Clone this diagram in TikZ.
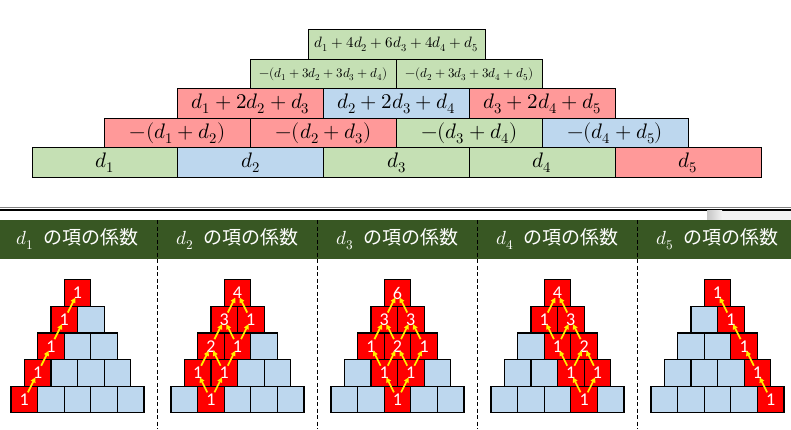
\documentclass[tikz,border=0pt]{standalone}
\usepackage{fontspec}
\usepackage{unicode-math}
\setmathfont{Latin Modern Math}
\newfontfamily\jp{Noto Sans CJK JP}
\newfontfamily\numfont{Carlito}
\usetikzlibrary{positioning,arrows.meta}
\definecolor{tgreen}{HTML}{C5E0B4}
\definecolor{tblue}{HTML}{BDD7EE}
\definecolor{tpink}{HTML}{FF9999}
\definecolor{band}{HTML}{385723}
\tikzset{
  >={Triangle[length=5pt,width=5pt]},
  term/.style={draw, line width=0.9pt, minimum width=145.8pt, minimum height=29.5pt,
    inner sep=0pt, outer sep=0pt, font=\fontsize{21}{24}\selectfont},
  small term/.style={term, font=\fontsize{13}{15}\selectfont},
  gterm/.style={term, fill=tgreen},
  bterm/.style={term, fill=tblue},
  pterm/.style={term, fill=tpink},
  cell/.style={draw, line width=1.2pt, minimum size=26.6pt, inner sep=0pt, outer sep=0pt,
    fill=tblue},
  hit/.style={cell, fill=red, text=white, font=\numfont\fontsize{18}{20}\selectfont},
  carry/.style={->, yellow, line width=1.7pt, shorten <=8pt, shorten >=5pt},
  head/.style={text=white, font=\fontsize{19}{22}\selectfont},
  sep/.style={line width=1.3pt, dash pattern=on 4pt off 2.5pt},
}

\begin{document}
\begin{tikzpicture}[x=1pt, y=-1pt]
  \useasboundingbox (0,0) rectangle (791,429);

  % difference pyramid
  \node[gterm] (a1) at (104.9,162.5) {$d_1$};
  \node[bterm, right=0pt of a1] (a2) {$d_2$};
  \node[gterm, right=0pt of a2] (a3) {$d_3$};
  \node[gterm, right=0pt of a3] (a4) {$d_4$};
  \node[pterm, right=0pt of a4] (a5) {$d_5$};

  \node[pterm, above=0pt of a1.north east] (b1) {$-(d_1+d_2)$};
  \node[pterm, right=0pt of b1] (b2) {$-(d_2+d_3)$};
  \node[gterm, right=0pt of b2] (b3) {$-(d_3+d_4)$};
  \node[bterm, right=0pt of b3] (b4) {$-(d_4+d_5)$};

  \node[pterm, above=0pt of b1.north east] (c1) {$d_1+2d_2+d_3$};
  \node[bterm, right=0pt of c1] (c2) {$d_2+2d_3+d_4$};
  \node[pterm, right=0pt of c2] (c3) {$d_3+2d_4+d_5$};

  \node[small term, fill=tgreen, above=0pt of c1.north east] (e1) {$-(d_1+3d_2+3d_3+d_4)$};
  \node[small term, fill=tgreen, right=0pt of e1] (e2) {$-(d_2+3d_3+3d_4+d_5)$};

  \node[small term, fill=tgreen, minimum width=177pt, font=\fontsize{15}{17}\selectfont,
    above=0pt of e1.north east] (f1) {$d_1+4d_2+6d_3+4d_4+d_5$};

  % separator
  \draw[gray, line width=0.8pt] (0,207.6) -- (791,207.6);
  \draw[line width=1.5pt] (0,209.8) -- (791,209.8);
  \shade[left color=gray!45, right color=gray!10] (707,210.6) rectangle (722,220);
  \fill[gray!10] (722,210.6) rectangle (791,220);

  % header band
  \fill[band] (0,220) rectangle (791,259);
  \foreach \m in {1,...,5}
    \node[head] (h\m) at (77.5+160*\m-160,239) {$d_{\m}$\hspace{9pt}{\jp の項の係数}};
  \foreach \x in {157.5,317.5,477.5,637.5}
    \draw[sep] (\x,220) -- (\x,429);

  % coefficient pyramids
  \foreach \m in {1,...,5}{
    \foreach \k in {0,...,4}{
      \pgfmathtruncatemacro{\last}{4-\k}
      \foreach \j in {0,...,\last}{
        \pgfmathtruncatemacro{\idx}{\m-1-\j}
        \pgfmathsetmacro{\cx}{77.5+160*(\m-1)+(\j-\last/2)*26.6}
        \pgfmathsetmacro{\cy}{399.5-26.6*\k}
        \ifnum\idx<0 \node[cell] (p\m-\k-\j) at (\cx,\cy) {};
        \else\ifnum\idx>\k \node[cell] (p\m-\k-\j) at (\cx,\cy) {};
        \else
          \pgfmathtruncatemacro{\coef}{factorial(\k)/(factorial(\idx)*factorial(\k-\idx))}
          \node[hit] (p\m-\k-\j) at (\cx,\cy) {\coef};
        \fi\fi
      }
    }
  }
  \foreach \m in {1,...,5}{
    \foreach \k in {0,...,3}{
      \pgfmathtruncatemacro{\last}{4-\k}
      \pgfmathtruncatemacro{\kk}{\k+1}
      \foreach \j in {0,...,\last}{
        \pgfmathtruncatemacro{\idx}{\m-1-\j}
        \pgfmathtruncatemacro{\jm}{\j-1}
        \ifnum\idx<0 \else\ifnum\idx>\k \else
          \ifnum\j>0 \draw[carry] (p\m-\k-\j.center) -- (p\m-\kk-\jm.center);\fi
          \ifnum\j<\last \draw[carry] (p\m-\k-\j.center) -- (p\m-\kk-\j.center);\fi
        \fi\fi
      }
    }
  }
\end{tikzpicture}
\end{document}
